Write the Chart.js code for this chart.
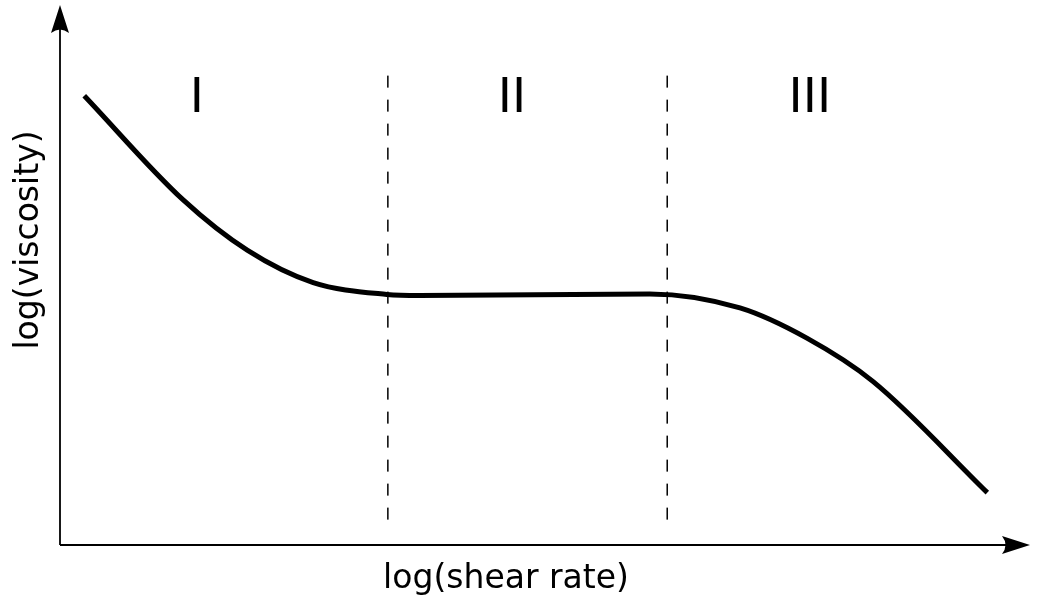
<!DOCTYPE html>
<html>
<head>
<meta charset="utf-8">
<script src="https://cdn.jsdelivr.net/npm/chart.js@4/dist/chart.umd.min.js"></script>
<style>
  body { margin: 0; background: #fff; }
  #wrap { width: 1043px; height: 598px; }
</style>
</head>
<body>
<div id="wrap"><canvas id="flowChart"></canvas></div>
<script>
// flow curve, log(shear rate) vs log(viscosity), arbitrary units 0..100
var curveX = [2.5, 12.7, 19.3, 26.1, 33.7, 37.1, 60.8, 70.1, 77.0, 83.8, 95.6];
var curveY = [83.2, 63.9, 54.6, 48.6, 46.4, 46.2, 46.5, 43.9, 38.3, 30.3, 9.7];
var regionBounds = [33.8, 62.6];
var regionLabels = ["I", "II", "III"];
var regionLabelX = [14.1, 46.6, 77.3];
var xTitle = "log(shear rate)";
var yTitle = "log(viscosity)";

var curve = curveX.map(function (x, i) { return { x: x, y: curveY[i] }; });
var datasets = [{
    data: curve,
    borderColor: "#000",
    borderWidth: 5,
    pointRadius: 0,
    cubicInterpolationMode: "monotone",
    fill: false
}];
regionBounds.forEach(function (b) {
    datasets.push({
        data: [{ x: b, y: 4.7 }, { x: b, y: 87.9 }],
        borderColor: "#000",
        borderWidth: 1.5,
        borderDash: [12, 12],
        pointRadius: 0
    });
});

function arrowHead(ctx, x, y, dir) {
    // dir: 'up' or 'right'
    ctx.save();
    ctx.translate(x, y);
    if (dir === "up") ctx.rotate(-Math.PI / 2);
    ctx.beginPath();
    ctx.moveTo(0, 0);
    ctx.lineTo(-28, -9);
    ctx.quadraticCurveTo(-21, 0, -28, 9);
    ctx.closePath();
    ctx.fillStyle = "#000";
    ctx.fill();
    ctx.restore();
}

var decorations = {
    id: "decorations",
    afterDraw: function (chart) {
        var ctx = chart.ctx;
        var xs = chart.scales.x, ys = chart.scales.y;
        var x0 = xs.getPixelForValue(0), y0 = ys.getPixelForValue(0);
        ctx.save();
        ctx.strokeStyle = "#000";
        ctx.lineWidth = 1.8;
        ctx.beginPath();
        ctx.moveTo(x0, y0);
        ctx.lineTo(xs.right - 10, y0);
        ctx.moveTo(x0, y0);
        ctx.lineTo(x0, ys.top + 10);
        ctx.stroke();
        arrowHead(ctx, xs.right, y0, "right");
        arrowHead(ctx, x0, ys.top, "up");

        ctx.fillStyle = "#000";
        ctx.textAlign = "center";
        ctx.textBaseline = "middle";
        ctx.font = "48px 'DejaVu Sans'";
        regionLabels.forEach(function (t, i) {
            ctx.fillText(t, xs.getPixelForValue(regionLabelX[i]), 100);
        });
        ctx.font = "33px 'DejaVu Sans'";
        ctx.fillText(xTitle, 506, 579);
        ctx.translate(29, 240);
        ctx.rotate(-Math.PI / 2);
        ctx.fillText(yTitle, 0, 0);
        ctx.restore();
    }
};

new Chart(document.getElementById("flowChart"), {
    type: "line",
    data: { datasets: datasets },
    options: {
        responsive: true,
        maintainAspectRatio: false,
        animation: false,
        layout: { padding: { left: 60, right: 13, top: 5, bottom: 53 } },
        plugins: { legend: { display: false }, tooltip: { enabled: false } },
        scales: {
            x: { type: "linear", min: 0, max: 100, display: false },
            y: { type: "linear", min: 0, max: 100, display: false }
        }
    },
    plugins: [decorations]
});
</script>
</body>
</html>
